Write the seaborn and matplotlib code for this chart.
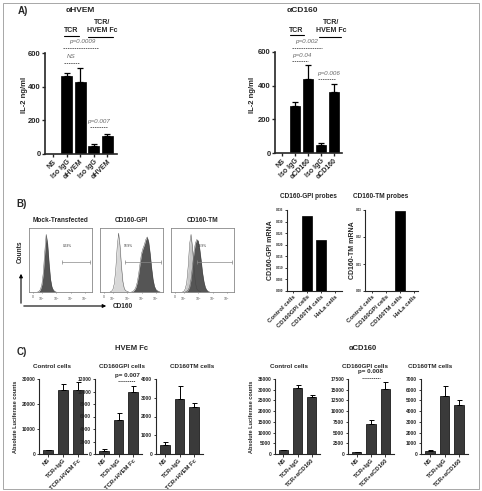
import numpy as np
import pandas as pd
import matplotlib
matplotlib.use("Agg")
import matplotlib.pyplot as plt
from matplotlib.lines import Line2D
from matplotlib.patches import Rectangle, FancyArrowPatch
import seaborn as sns

# ---------------- data ----------------
# Panel A
a1_labels = ["NS", "Iso IgG", "αHVEM", "Iso IgG", "αHVEM"]
a1_vals = [0, 465, 425, 48, 107]
a1_err = [0, 16, 86, 12, 12]
a2_labels = ["NS", "Iso IgG", "αCD160", "Iso IgG", "αCD160"]
a2_vals = [0, 277, 441, 46, 362]
a2_err = [0, 26, 83, 13, 46]

# Panel B mRNA
b_cells = ["Control cells", "CD160GPI cells", "CD160TM cells", "HeLa cells"]
b_gpi = [0.0, 0.0325, 0.0220, 0.0]
b_tm = [0.0, 0.0, 0.0296, 0.0]

# Panel B flow histograms (log10 fluorescence, relative counts)
f1_dark_x = [1.7, 1.8, 1.9, 2.0, 2.1, 2.2, 2.3, 2.4, 2.5, 2.6, 2.7, 2.8, 2.9, 3.0]
f1_dark_y = [0.0, 0.01, 0.04, 0.12, 0.30, 0.62, 0.90, 0.75, 0.45, 0.20, 0.08, 0.03, 0.01, 0.0]
f2_light_x = [1.8, 1.9, 2.0, 2.1, 2.2, 2.3, 2.4, 2.5, 2.6, 2.7, 2.8, 2.9, 3.0, 3.1]
f2_light_y = [0.0, 0.01, 0.04, 0.13, 0.35, 0.70, 0.92, 0.72, 0.40, 0.16, 0.05, 0.02, 0.01, 0.0]
f2_dark_x = [3.3, 3.4, 3.5, 3.6, 3.7, 3.8, 3.9, 4.0, 4.1, 4.2, 4.3, 4.4, 4.5, 4.6, 4.7,
             4.8, 4.9, 5.0, 5.1, 5.2, 5.3]
f2_dark_y = [0.0, 0.01, 0.03, 0.07, 0.15, 0.28, 0.45, 0.60, 0.68, 0.74, 0.82, 0.86, 0.78,
             0.60, 0.38, 0.20, 0.09, 0.04, 0.02, 0.01, 0.0]
f3_light_x = [1.9, 2.0, 2.1, 2.2, 2.3, 2.4, 2.5, 2.6, 2.7, 2.8, 2.9, 3.0, 3.1, 3.2]
f3_light_y = [0.0, 0.01, 0.05, 0.15, 0.40, 0.75, 0.90, 0.70, 0.40, 0.15, 0.05, 0.02, 0.01, 0.0]
f3_dark_x = [2.1, 2.2, 2.3, 2.4, 2.5, 2.6, 2.7, 2.8, 2.9, 3.0, 3.1, 3.2, 3.3, 3.4, 3.5,
             3.6, 3.7, 3.8]
f3_dark_y = [0.0, 0.01, 0.03, 0.08, 0.20, 0.40, 0.62, 0.76, 0.82, 0.80, 0.68, 0.50, 0.30,
             0.16, 0.07, 0.03, 0.01, 0.0]
flow_titles = ["Mock-Transfected", "CD160-GPI", "CD160-TM"]
flow_pct = ["0.33%", "93.9%", "38.9%"]
flow_gate_start = [3.37, 2.85, 2.90]
flow_ticks = [1.35, 2, 3, 4, 5]
flow_ticklabels = ["0", "$10^2$", "$10^3$", "$10^4$", "$10^5$"]

# Panel C
c_hvem_labels = ["NS", "TCR+IgG", "TCR+HVEM Fc"]
c_cd160_labels = ["NS", "TCR+IgG", "TCR+αCD160"]
c_titles = ["Control cells", "CD160GPI cells", "CD160TM cells"]
c1_vals = [1600, 25800, 25500]; c1_err = [100, 2400, 3200]
c2_vals = [540, 5500, 9900];    c2_err = [200, 1000, 1000]
c3_vals = [500, 2950, 2500];    c3_err = [120, 700, 230]
c4_vals = [1700, 30700, 26800]; c4_err = [200, 1500, 700]
c5_vals = [450, 7000, 15200];   c5_err = [100, 900, 1500]
c6_vals = [300, 5450, 4600];    c6_err = [40, 900, 400]

# ---------------- style ----------------
sns.set_style("ticks")
plt.rcParams['font.family'] = ['Liberation Sans', 'DejaVu Sans']
plt.rcParams['mathtext.fontset'] = 'custom'
plt.rcParams['mathtext.rm'] = 'Liberation Sans'
plt.rcParams['mathtext.it'] = 'Liberation Sans:italic'

W, H = 482, 491
fig = plt.figure(figsize=(4.82, 4.91), dpi=100)


def add_ax(l, t, r, b):
    return fig.add_axes([l / W, 1 - b / H, (r - l) / W, (b - t) / H])


def ft(x, y, s, size, **kw):
    kw.setdefault("ha", "center")
    kw.setdefault("va", "center")
    kw.setdefault("fontweight", "bold")
    return fig.text(x / W, 1 - y / H, s, fontsize=size, **kw)


def hline(x1, x2, y, dashed=False, color="black", lw=0.8):
    ls = (0, (1.5, 0.8)) if dashed else "-"
    fig.add_artist(Line2D([x1 / W, x2 / W], [1 - y / H, 1 - y / H], transform=fig.transFigure,
                          color=color, lw=lw, linestyle=ls))


def bars(ax, vals, errs, color, width, edge, elw=0.8, cap=2):
    df = pd.DataFrame({"pos": list(range(len(vals))), "val": vals})
    sns.barplot(data=df, x="pos", y="val", ax=ax, color=color, width=width, errorbar=None,
                edgecolor=edge, linewidth=0.5, saturation=1)
    e = np.array(errs, dtype=float)
    m = e > 0
    ax.errorbar(df["pos"][m], np.array(vals)[m], yerr=[np.zeros(m.sum()), e[m]], fmt="none",
                ecolor="black", elinewidth=elw, capsize=cap, capthick=elw)
    ax.set_xlabel("")
    ax.set_ylabel("")


def style_ax(ax, labels, ysize, xsize, spw=1.0, tl=2.0):
    sns.despine(ax=ax)
    for s in ["left", "bottom"]:
        ax.spines[s].set_linewidth(spw)
    ax.set_xticks(range(len(labels)))
    ax.set_xticklabels(labels, rotation=45, ha="right", rotation_mode="anchor",
                       fontsize=xsize, fontweight="bold")
    ax.tick_params(axis="both", length=tl, width=spw * 0.8, pad=1)
    ax.tick_params(axis="y", labelsize=ysize)
    for lab in ax.get_yticklabels():
        lab.set_fontweight("bold")


# ---------------- Panel A ----------------
ft(23, 11, "A)", 7)
axA1 = add_ax(45, 53, 117, 154)
bars(axA1, a1_vals, a1_err, "black", 0.8, "black", elw=0.9, cap=2.5)
axA1.set_ylim(0, 600)
axA1.set_yticks([0, 200, 400, 600])
axA1.set_xlim(-0.6, 4.73)
style_ax(axA1, a1_labels, 5.5, 5, spw=1.2)
ft(80, 11, "αHVEM", 6)
ft(25, 95, "IL-2 ng/ml", 5.5, rotation=90)
ft(71, 31, "TCR", 5)
hline(64, 79, 36)
ft(102, 23, "TCR/", 5)
ft(102, 31, "HVEM Fc", 5)
hline(88, 113, 37)
ft(82, 42, "p=0.0009", 4.5, fontweight="normal", style="italic", color="#666666")
hline(63, 98, 48, dashed=True, color="#666666", lw=0.7)
ft(71, 57, "NS", 4.5, fontweight="normal", style="italic", color="#666666")
hline(64, 79, 63, dashed=True, color="#666666", lw=0.7)
ft(99, 121, "p=0.007", 4.5, fontweight="normal", style="italic", color="#666666")
hline(90, 107, 127, dashed=True, color="#666666", lw=0.7)

axA2 = add_ax(275, 52, 342, 153)
bars(axA2, a2_vals, a2_err, "black", 0.8, "black", elw=0.9, cap=2.5)
axA2.set_ylim(0, 600)
axA2.set_yticks([0, 200, 400, 600])
axA2.set_xlim(-0.54, 4.62)
style_ax(axA2, a2_labels, 5.5, 5, spw=1.2)
ft(302, 11, "αCD160", 6)
ft(253, 95, "IL-2 ng/ml", 5.5, rotation=90)
ft(296, 30, "TCR", 5)
hline(290, 304, 35)
ft(331, 23, "TCR/", 5)
ft(331, 31, "HVEM Fc", 5)
hline(319, 341, 37)
ft(307, 42, "p=0.002", 4.5, fontweight="normal", style="italic", color="#666666")
hline(292, 322, 48, dashed=True, color="#666666", lw=0.7)
ft(302, 55, "p=0.04", 4.5, fontweight="normal", style="italic", color="#666666")
hline(292, 308, 61, dashed=True, color="#666666", lw=0.7)
ft(329, 73, "p=0.006", 4.5, fontweight="normal", style="italic", color="#666666")
hline(318, 335, 79, dashed=True, color="#666666", lw=0.7)

# ---------------- Panel B flow ----------------
ft(22, 204, "B)", 7)
boxes = [(29, 228, 92, 292), (100, 228, 163, 292), (171, 228, 234, 292)]
flow_layers = [
    [(f1_dark_x, f1_dark_y, "#555555")],
    [(f2_light_x, f2_light_y, "#d8d8d8"), (f2_dark_x, f2_dark_y, "#555555")],
    [(f3_light_x, f3_light_y, "#c8c8c8"), (f3_dark_x, f3_dark_y, "#555555")],
]
pct_x = [3.75, 3.06, 3.27]
for i, (l, t, r, b) in enumerate(boxes):
    ax = add_ax(l, t, r, b)
    for xs, ys, col in flow_layers[i]:
        ax.fill_between(xs, ys, color=col, lw=0)
        sns.lineplot(x=xs, y=ys, ax=ax, color="#444444", lw=0.3)
    ax.set_xlim(1.1, 5.5)
    ax.set_ylim(0, 1)
    ax.plot([flow_gate_start[i], 5.35], [0.47, 0.47], color="#888888", lw=0.5,
            marker="|", markersize=2.5, markeredgewidth=0.5)
    ax.text(pct_x[i], 0.72, flow_pct[i], fontsize=2.3, ha="center", va="center", color="#333333")
    for s in ax.spines.values():
        s.set_color("#888888")
        s.set_linewidth(0.6)
    ax.set_yticks([])
    ax.set_xticks(flow_ticks)
    ax.set_xticklabels(flow_ticklabels, fontsize=2.5)
    ax.tick_params(axis="x", length=1, width=0.4, pad=1.5, colors="#555555")
    ax.set_xlabel("")
    ax.set_ylabel("")
    ft((l + r) / 2, 221, flow_titles[i], 4.7)

fig.add_artist(FancyArrowPatch(
    (21 / W, 1 - 306 / H), (21 / W, 1 - 271 / H), transform=fig.transFigure,
    arrowstyle="-|>", mutation_scale=5, lw=0.8, color="black"))
fig.add_artist(FancyArrowPatch(
    (21 / W, 1 - 306 / H), (109 / W, 1 - 306 / H), transform=fig.transFigure,
    arrowstyle="-|>", mutation_scale=5, lw=0.8, color="black"))
ft(20, 252, "Counts", 4.7, rotation=90)
ft(113, 306, "CD160", 4.7, ha="left")

# ---------------- Panel B mRNA ----------------
axB1 = add_ax(287, 210, 342, 291)
bars(axB1, b_gpi, [0, 0, 0, 0], "black", 0.72, "black")
axB1.set_ylim(0, 0.035)
axB1.set_yticks(np.arange(0, 0.0351, 0.005))
axB1.set_yticklabels([f"{v:.3f}" for v in np.arange(0, 0.0351, 0.005)])
axB1.set_xlim(-0.43, 3.5)
style_ax(axB1, b_cells, 2.2, 4.3, spw=0.8, tl=1.5)
ft(308, 196, "CD160-GPI probes", 4.7)
ft(271, 250, "CD160-GPI mRNA", 5, rotation=90)

axB2 = add_ax(365, 210, 418, 291)
bars(axB2, b_tm, [0, 0, 0, 0], "black", 0.72, "black")
axB2.set_ylim(0, 0.03)
axB2.set_yticks([0, 0.01, 0.02, 0.03])
axB2.set_yticklabels(["0.00", "0.01", "0.02", "0.03"])
axB2.set_xlim(-0.5, 3.3)
style_ax(axB2, b_cells, 2.2, 4.3, spw=0.8, tl=1.5)
ft(381, 196, "CD160-TM probes", 4.7)
ft(352, 250, "CD160-TM mRNA", 5, rotation=90)

# ---------------- Panel C ----------------
ft(22, 352, "C)", 7)
ft(132, 348, "HVEM Fc", 5.5)
ft(363, 349, "αCD160", 5.5)
c_specs = [
    ((39, 379, 87, 454), c1_vals, c1_err, c_hvem_labels, 30000, 10000, c_titles[0], 52),
    ((95, 379, 142, 454), c2_vals, c2_err, c_hvem_labels, 12000, 2000, c_titles[1], 122),
    ((156, 379, 203, 454), c3_vals, c3_err, c_hvem_labels, 4000, 1000, c_titles[2], 192),
    ((275, 379, 320, 454), c4_vals, c4_err, c_cd160_labels, 35000, 5000, c_titles[0], 289),
    ((348, 379, 394, 454), c5_vals, c5_err, c_cd160_labels, 17500, 2500, c_titles[1], 365),
    ((421, 379, 468, 454), c6_vals, c6_err, c_cd160_labels, 7000, 1000, c_titles[2], 430),
]
for (l, t, r, b), vals, errs, labs, top, step, title, tx in c_specs:
    ax = add_ax(l, t, r, b)
    bars(ax, vals, errs, "#3a3a3a", 0.65, "black", elw=0.7, cap=1.8)
    ax.set_ylim(0, top)
    ax.set_yticks(np.arange(0, top + 1, step))
    ax.set_yticklabels([str(int(v)) for v in np.arange(0, top + 1, step)])
    ax.set_xlim(-0.6, 2.6)
    style_ax(ax, labs, 3.5, 4.2, spw=0.8, tl=1.8)
    ft(tx, 367, title, 4.5)

ft(16, 417, "Absolute Luciferase counts", 4, rotation=90)
ft(251, 417, "Absolute Luciferase counts", 4, rotation=90)
ft(127, 376, "p= 0.007", 4.5)
hline(118, 135, 381, dashed=True, color="#333333", lw=0.6)
ft(370, 371, "p= 0.008", 4.5)
hline(362, 380, 378, dashed=True, color="#333333", lw=0.6)

# outer border
fig.add_artist(Rectangle((3 / W, 2 / H), 476 / W, 486 / H, transform=fig.transFigure,
                         fill=False, edgecolor="#999999", lw=0.6))

fig.savefig("out.png", dpi=100)
